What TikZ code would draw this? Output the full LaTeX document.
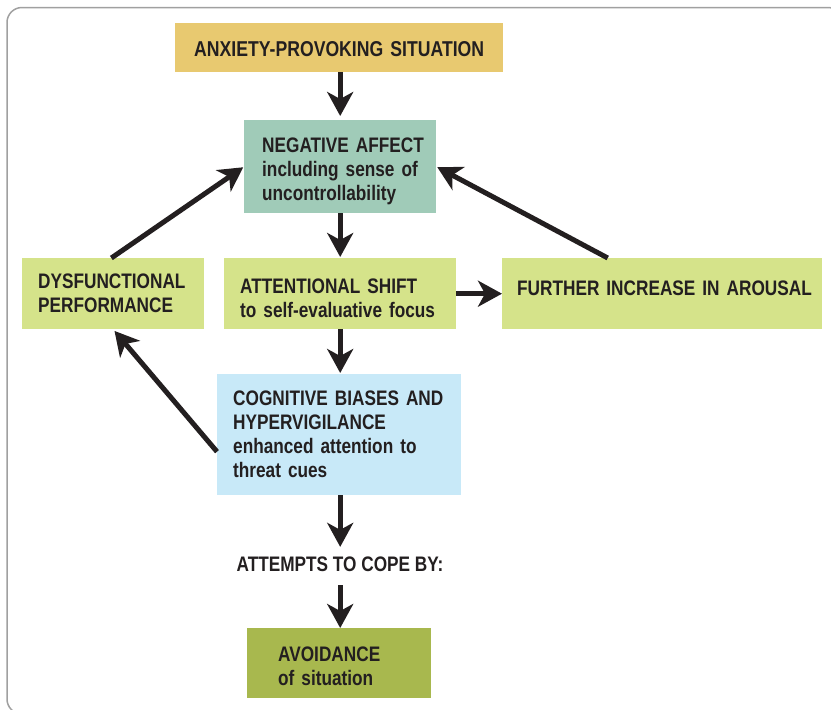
\documentclass[tikz,border=0pt]{standalone}
\usepackage{fontspec}
\setmainfont{Liberation Sans}[FakeStretch=0.82]
\usetikzlibrary{arrows.meta,calc}
\definecolor{cYel}{HTML}{E8C970}
\definecolor{cTeal}{HTML}{A0CBB8}
\definecolor{cLime}{HTML}{D5E38A}
\definecolor{cBlue}{HTML}{C8E9F8}
\definecolor{cOlive}{HTML}{A8B84E}
\definecolor{cInk}{HTML}{231F20}
\definecolor{cFrame}{HTML}{A0A0A0}
\newcommand\oneln[1]{\mbox{#1}}
\newcommand\topstrut[1]{\rule{0pt}{#1}}
\newcommand\botstrut[1]{\rule[-#1]{0pt}{#1}}
\begin{document}
\begin{tikzpicture}[x=1pt,y=-1pt,
  box/.style={anchor=north west, inner ysep=0pt, align=left, text=cInk,
    font=\fontsize{21}{24}\selectfont\bfseries},
  arr/.style={line width=5pt, draw=cInk,
    -{Stealth[length=24pt,width=26pt,inset=7pt]}}]
\useasboundingbox (0,0) rectangle (831,710);
\draw[cFrame, line width=1.5pt, rounded corners=15pt] (7,7.5) rectangle (843,714);

\node[box, fill=cYel, align=center, text width=328pt, inner xsep=0pt, minimum height=49pt,
  font=\fontsize{21.5}{24}\selectfont\bfseries] (sit) at (175,23) {\topstrut{18pt}ANXIETY-PROVOKING SITUATION};
\node[box, fill=cTeal, text width=156pt, inner xsep=18pt, minimum height=93pt] (neg) at (244,120)
  {\topstrut{23pt}\oneln{NEGATIVE AFFECT}\\\oneln{including sense of}\\\oneln{uncontrollability}};
\node[box, fill=cLime, text width=150pt, inner xsep=16pt, minimum height=71pt] (dys) at (22,258)
  {\oneln{DYSFUNCTIONAL}\\\oneln{PERFORMANCE}};
\node[box, fill=cLime, text width=200pt, inner xsep=16pt, minimum height=71pt] (att) at (224,258)
  {\topstrut{23pt}\oneln{ATTENTIONAL SHIFT}\\\oneln{to self-evaluative focus}};
\node[box, fill=cLime, text width=290pt, inner xsep=15pt, minimum height=71pt] (fur) at (502,258)
  {\oneln{FURTHER INCREASE IN AROUSAL}\botstrut{11pt}};
\node[box, fill=cBlue, text width=212pt, inner xsep=16pt, minimum height=121pt] (cog) at (217,374)
  {\oneln{COGNITIVE BIASES AND}\\\oneln{HYPERVIGILANCE}\\\oneln{enhanced attention to}\\\oneln{threat cues}};
\node[inner sep=0pt, text=cInk, font=\fontsize{21}{24}\selectfont\bfseries] (cope) at (340,564.5)
  {ATTEMPTS TO COPE BY:};
\node[box, fill=cOlive, text width=122pt, inner xsep=31pt, minimum height=70pt] (avo) at (247,628)
  {\topstrut{20pt}\oneln{AVOIDANCE}\\\oneln{of situation}};

\draw[arr, shorten >=4pt] (neg.north |- sit.south) -- (neg.north);
\draw[arr, shorten >=1pt] (neg.south) -- (att.north -| neg.south);
\draw[arr, shorten >=1pt] (att.south -| neg.south) -- (cog.north -| neg.south);
\draw[arr, shorten >=10pt] (cog.south -| neg.south) -- (cope.north -| neg.south);
\draw[arr, shorten <=13pt] (cope.south -| neg.south) -- (avo.north -| neg.south);
\draw[arr] (att.east) -- (fur.west);
\draw[arr, shorten >=1pt] ($(dys.north west)!0.49!(dys.north east)$) -- (neg.west);
\draw[arr, shorten >=1pt] ($(fur.north west)!0.33!(fur.north east)$) -- (neg.east);
\draw[arr, shorten >=2pt] ($(cog.north west)!0.64!(cog.south west)$) -- (dys.south);
\end{tikzpicture}
\end{document}
